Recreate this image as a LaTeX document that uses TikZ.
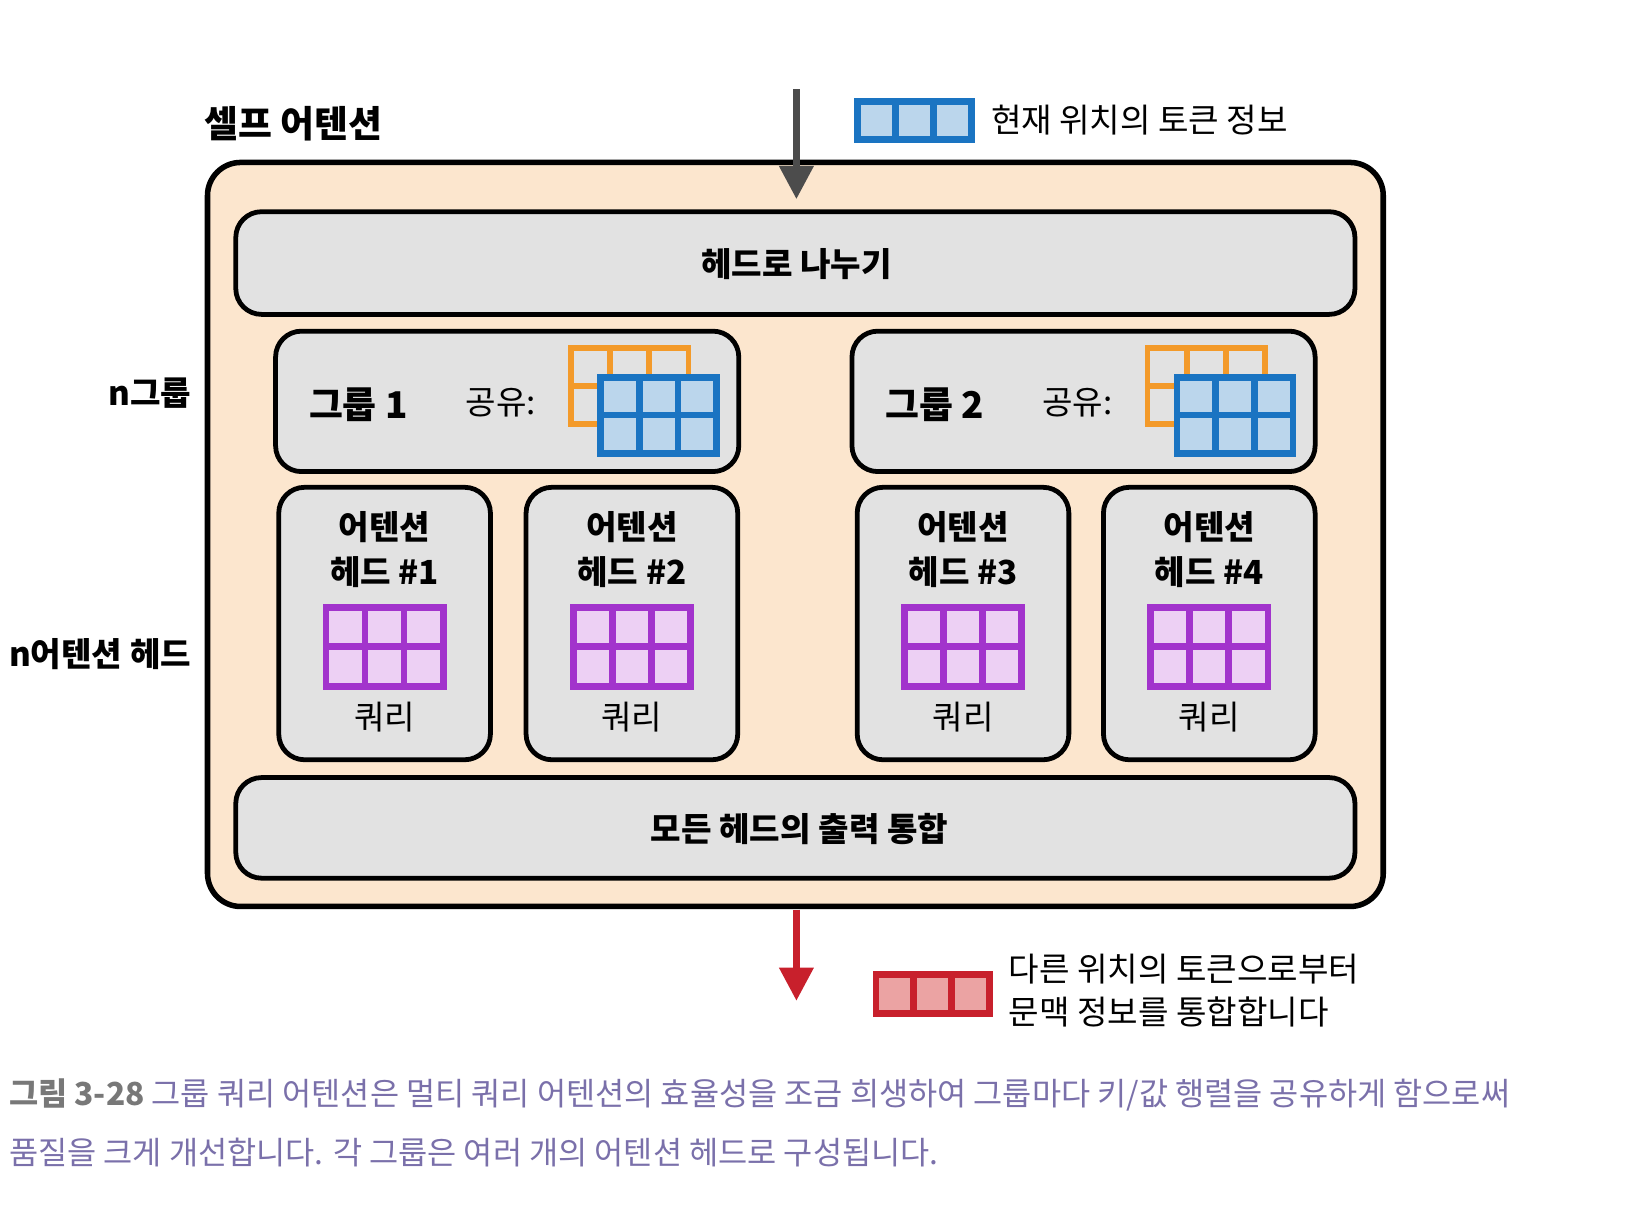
\documentclass[tikz,border=0pt]{standalone}
\usepackage{fontspec}
\setmainfont{Noto Sans CJK KR}
\usetikzlibrary{arrows.meta}
\definecolor{outerf}{HTML}{FCE6CE}
\definecolor{boxf}{HTML}{E2E2E2}
\definecolor{blu}{HTML}{1A74C2}
\definecolor{bluf}{HTML}{BBD6EC}
\definecolor{org}{HTML}{F39A2A}
\definecolor{pur}{HTML}{A233CC}
\definecolor{purf}{HTML}{EDD0F4}
\definecolor{rd}{HTML}{C8202C}
\definecolor{rdf}{HTML}{EBA3A3}
\definecolor{capc}{HTML}{7A70AA}
\definecolor{capg}{HTML}{787878}
\begin{document}
\begin{tikzpicture}[x=0.01cm,y=-0.01cm,
  box/.style={draw=black,line width=1.3pt,fill=boxf,rounded corners=7pt},
  lbl/.style={font=\fontsize{9pt}{11pt}\selectfont\bfseries,inner sep=0pt},
  txt/.style={font=\fontsize{9pt}{11pt}\selectfont,inner sep=0pt},
  captxt/.style={font=\fontsize{8.6pt}{10pt}\selectfont,inner sep=0pt,anchor=west,text=capc}]
\useasboundingbox (0,0) rectangle (1565,1162);
\node[lbl,font=\fontsize{10pt}{12pt}\selectfont\bfseries] (title) at (280,118) {셀프 어텐션};
\node[lbl,anchor=east] (ng) at (183,375) {n그룹};
\node[lbl,anchor=east] (nh) at (183,624) {n어텐션 헤드};
% outer
\draw[line width=1.5pt,fill=outerf,rounded corners=9pt] (198,155) rectangle (1320,865);
\draw[box] (225,202) rectangle (1293,300);
\node[lbl] (split) at (760,252) {헤드로 나누기};
\draw[box] (225,742) rectangle (1293,838);
\node[lbl] (merge) at (763,791) {모든 헤드의 출력 통합};
% groups
\foreach \dx/\n in {0/1,550/2}{
  \draw[box] (263+\dx,316) rectangle (705+\dx,450);
  \node[lbl,font=\fontsize{10pt}{12pt}\selectfont\bfseries] at (342+\dx,386) {그룹 \n};
  \node[txt] at (478+\dx,384) {공유:};
  \draw[org,line width=1.6pt] (545+\dx,332) rectangle (657+\dx,405);
  \foreach \i in {1,2}{\draw[org,line width=1.6pt] (545+\dx+37.3*\i,332) -- (545+\dx+37.3*\i,405);}
  \draw[org,line width=1.6pt] (545+\dx,368) -- (657+\dx,368);
  \fill[bluf] (573+\dx,360) rectangle (684+\dx,433);
  \draw[blu,line width=1.8pt] (573+\dx,360) rectangle (684+\dx,433);
  \foreach \i in {1,2}{\draw[blu,line width=1.8pt] (573+\dx+37*\i,360) -- (573+\dx+37*\i,433);}
  \draw[blu,line width=1.8pt] (573+\dx,396) -- (684+\dx,396);
}
% heads
\foreach \x/\n in {266/1,502/2,818/3,1053/4}{
  \draw[box] (\x,465) rectangle (\x+202,725);
  \node[lbl] at (\x+101,503) {어텐션};
  \node[lbl] at (\x+101,546) {헤드 \#\n};
  \fill[purf] (\x+45,580) rectangle (\x+157,655);
  \draw[pur,line width=1.8pt] (\x+45,580) rectangle (\x+157,655);
  \foreach \i in {1,2}{\draw[pur,line width=1.8pt] (\x+45+37.3*\i,580) -- (\x+45+37.3*\i,655);}
  \draw[pur,line width=1.8pt] (\x+45,617) -- (\x+157,617);
  \node[txt] at (\x+101,684) {쿼리};
}
% arrows
\coordinate (inS) at (760,85);
\coordinate (inE) at (760,190);
\draw[line width=1.8pt,draw=black!70,-{Triangle[length=9pt,width=9pt]}] (inS) -- (inE);
\coordinate (outS) at (760,868);
\coordinate (outE) at (760,955);
\draw[line width=1.8pt,draw=rd,-{Triangle[length=9pt,width=9pt]}] (outS) -- (outE);
% legends
\fill[bluf] (818,97) rectangle (927,133);
\draw[blu,line width=1.8pt] (818,97) rectangle (927,133);
\foreach \i in {1,2}{\draw[blu,line width=1.8pt] (818+36.3*\i,97) -- (818+36.3*\i,133);}
\node[txt,anchor=west] (leg1) at (945,115) {현재 위치의 토큰 정보};
\fill[rdf] (836,930) rectangle (944,967);
\draw[rd,line width=1.8pt] (836,930) rectangle (944,967);
\foreach \i in {1,2}{\draw[rd,line width=1.8pt] (836+36*\i,930) -- (836+36*\i,967);}
\node[txt,anchor=west] (leg2a) at (962,925) {다른 위치의 토큰으로부터};
\node[txt,anchor=west] (leg2b) at (962,966) {문맥 정보를 통합합니다};
% caption
\node[captxt] (c1) at (8,1045) {\textcolor{capg}{\bfseries 그림 3-28} 그룹 쿼리 어텐션은 멀티 쿼리 어텐션의 효율성을 조금 희생하여 그룹마다 키/값 행렬을 공유하게 함으로써};
\node[captxt] (c2) at (8,1100) {품질을 크게 개선합니다. 각 그룹은 여러 개의 어텐션 헤드로 구성됩니다.};
\end{tikzpicture}
\end{document}
